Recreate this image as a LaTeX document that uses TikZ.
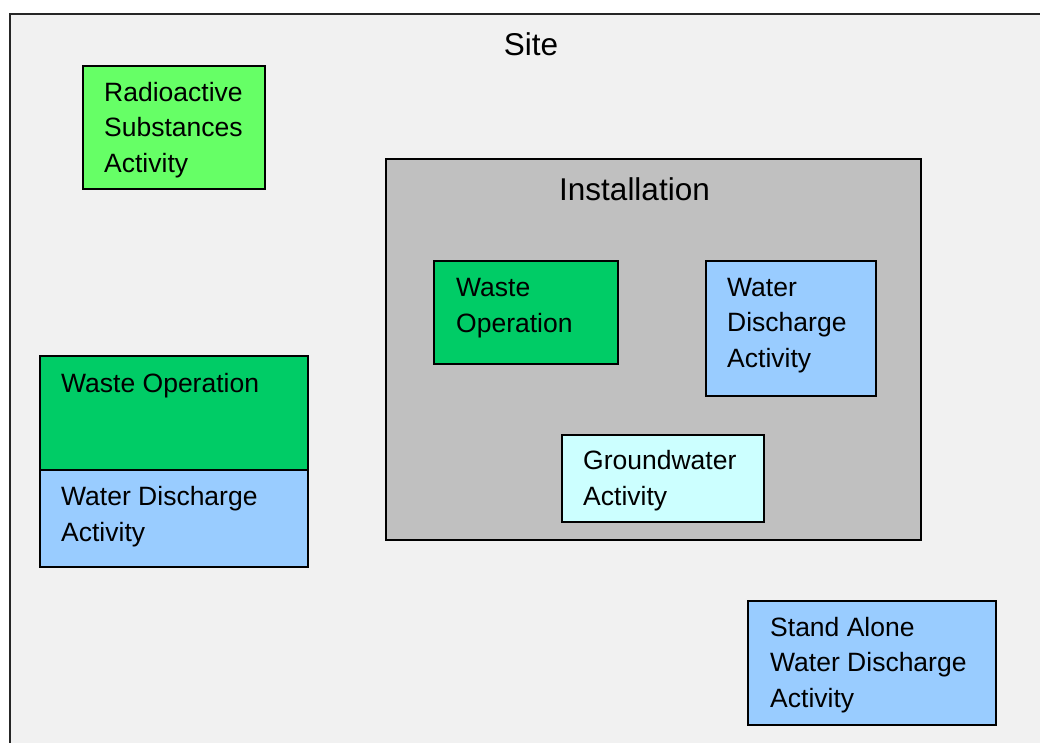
\documentclass[tikz,border=0pt]{standalone}
\usepackage{fontspec}
\setmainfont{Liberation Sans}
\definecolor{sitefill}{HTML}{F1F1F1}
\definecolor{instfill}{HTML}{C0C0C0}
\definecolor{radgreen}{HTML}{66FF66}
\definecolor{wastegreen}{HTML}{00CC66}
\definecolor{waterblue}{HTML}{99CCFF}
\definecolor{groundcyan}{HTML}{CCFFFF}
\tikzset{
  area/.style={rectangle, draw=black, line width=1.5pt, anchor=north west,
    inner sep=0pt, outer sep=0pt},
  % multi-line text: the base anchor sits on the last line's baseline
  boxtext/.style={anchor=base west, align=left, inner sep=0pt,
    font=\fontsize{26.5}{35.5}\selectfont},
  titletext/.style={anchor=base, inner sep=0pt,
    font=\fontsize{31.5}{36}\selectfont},
}
\begin{document}
\begin{tikzpicture}[x=1pt,y=-1pt]
\useasboundingbox (0,0) rectangle (1040,742);
\clip (0,0) rectangle (1040,742);
\fill[white] (0,0) rectangle (1040,742);

% site boundary, running off the right and bottom edges
\node[area, draw=black!85, line width=2pt, fill=sitefill,
      minimum width=1060pt, minimum height=760pt] (site) at (10,14) {};
\node[titletext] (sitelbl) at (531,55) {Site};

% radioactive substances activity
\node[area, fill=radgreen, minimum width=182pt, minimum height=123pt] (rad) at (83,66) {};
\node[boxtext] (radtxt) at (104,172) {Radioactive\\Substances\\Activity};

% installation and its activities
\node[area, fill=instfill, minimum width=535pt, minimum height=381pt] (inst) at (386,159) {};
\node[titletext] (instlbl) at (634.5,200) {Installation};

\node[area, fill=wastegreen, minimum width=184pt, minimum height=103pt] (iwaste) at (434,261) {};
\node[boxtext] (iwastetxt) at (456,332) {Waste\\Operation};

\node[area, fill=waterblue, minimum width=170pt, minimum height=135pt] (iwater) at (706,261) {};
\node[boxtext] (iwatertxt) at (727,367) {Water\\Discharge\\Activity};

\node[area, fill=groundcyan, minimum width=202pt, minimum height=87pt] (ground) at (562,435) {};
\node[boxtext] (groundtxt) at (583,505) {Groundwater\\Activity};

% combined waste operation / water discharge
\node[area, fill=wastegreen, minimum width=268pt, minimum height=114pt] (lwaste) at (40,356) {};
\node[boxtext] (lwastetxt) at (61,392) {Waste Operation};
\node[area, fill=waterblue, minimum width=268pt, minimum height=97pt] (lwater) at (40,470) {};
\node[boxtext] (lwatertxt) at (61,541) {Water Discharge\\Activity};

% stand alone water discharge
\node[area, fill=waterblue, minimum width=248pt, minimum height=124pt] (stand) at (748,601) {};
\node[boxtext] (standtxt) at (770,707) {Stand Alone\\Water Discharge\\Activity};
\end{tikzpicture}
\end{document}
